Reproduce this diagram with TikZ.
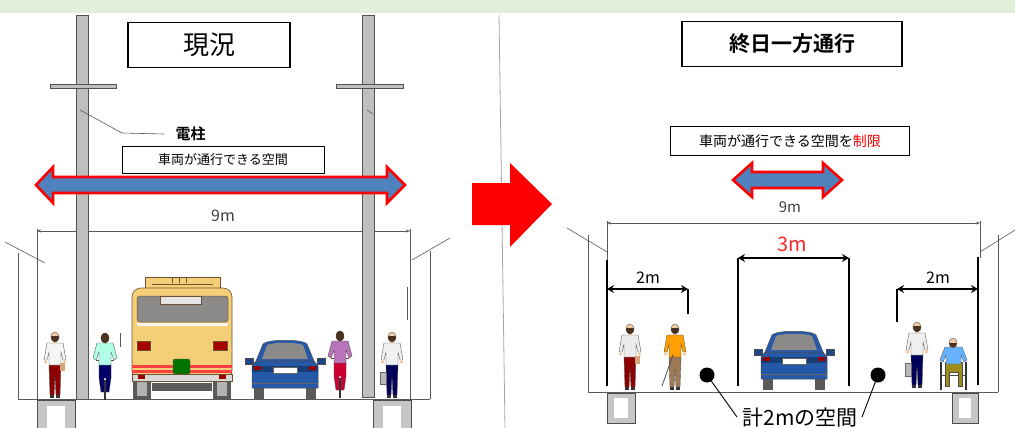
\documentclass[tikz,border=0pt]{standalone}
\usepackage{fontspec}
\setmainfont{Noto Sans CJK JP}[BoldFont={Noto Sans CJK JP Bold}]
\usetikzlibrary{arrows.meta}

\definecolor{band}{HTML}{E2EFDA}
\definecolor{arrowblue}{HTML}{4F81BD}
\definecolor{skin}{HTML}{F2C9A0}
\definecolor{hair}{HTML}{4A3220}
\definecolor{busbody}{HTML}{F4CF78}
\definecolor{busline}{HTML}{6A5530}
\definecolor{carblue}{HTML}{2458A8}
\definecolor{glass}{HTML}{8C8A88}
\definecolor{tyre}{HTML}{5A5A5A}

\tikzset{
  x=1pt, y=-1pt,
  thinline/.style={draw=gray!70!black, line width=0.6pt},
  pole/.style={fill=gray!50, draw=gray!65!black, line width=0.5pt},
  footing/.style={fill=gray!45, draw=gray!60!black, line width=0.5pt},
  titlebox/.style={draw=black, line width=1.2pt, fill=white, minimum width=#1, minimum height=45pt, inner sep=0pt},
  notebox/.style={draw=black, line width=0.9pt, fill=white, minimum width=#1, inner sep=0pt},
  bigarrow/.style={fill=arrowblue, draw=red, line width=2.6pt, line join=miter},
  dimline/.style={draw=black, line width=1.8pt},
  dimarrow/.style={draw=black, line width=1.8pt, {Stealth[length=7pt,width=8pt]}-{Stealth[length=7pt,width=8pt]}},
  outline/.style={draw=black!70, line width=0.35pt},
  % walking person seen from the front, feet at the origin
  pics/walker/.style 2 args={code={
    \fill[black!80] (-5,-3) rectangle (-1,0);
    \fill[black!80] (1,-3) rectangle (5,0);
    \filldraw[fill=#2, outline] (-6,-33) -- (6,-33) -- (5,-3) -- (1,-3) -- (0,-22) -- (-1,-3) -- (-5,-3) -- cycle;
    \filldraw[fill=#1, outline] (-8,-55) -- (-11,-38) -- (-8,-38) -- (-6,-46) -- (-6,-33) -- (6,-33) -- (6,-46) -- (8,-38) -- (11,-38) -- (8,-55) -- cycle;
    \fill[skin] (-9.5,-36) circle (1.8);
    \fill[skin] (9.5,-36) circle (1.8);
    \fill[skin] (-2,-58) rectangle (2,-55);
    \filldraw[fill=skin, outline] (0,-61) ellipse (4 and 5);
    \fill[hair] (-4.2,-61) arc (180:0:4.2 and 5) -- (3,-62) -- (-3,-62) -- cycle;
  }},
  % cyclist seen from behind, wheel at the origin
  pics/cyclist/.style 2 args={code={
    \draw[black!80, line width=2.4pt] (0,-20) -- (0,0);
    \draw[black!70, line width=1pt] (-9,-40) -- (9,-40);
    \filldraw[fill=#2, outline] (-6,-36) -- (6,-36) -- (6,-22) -- (4,-8) -- (1,-8) -- (1,-22) -- (-1,-22) -- (-1,-8) -- (-4,-8) -- (-6,-22) -- cycle;
    \filldraw[fill=#1, outline] (-8,-57) -- (-12,-42) -- (-9,-40) -- (-6,-48) -- (-6,-35) -- (6,-35) -- (6,-48) -- (9,-40) -- (12,-42) -- (8,-57) -- cycle;
    \fill[skin] (-2,-60) rectangle (2,-57);
    \filldraw[fill=skin, outline] (0,-62) ellipse (4 and 5);
    \fill[hair] (0,-62) ellipse (4.2 and 5.2);
  }},
  % rear view of a saloon car, bottom centre at the origin
  pics/sedan/.style={code={
    \fill[tyre] (-31,-12) rectangle (-21,0);
    \fill[tyre] (21,-12) rectangle (31,0);
    \filldraw[fill=carblue, draw=black!70, line width=0.5pt] (-33,-11) -- (-33,-33) -- (-29,-38) -- (29,-38) -- (33,-33) -- (33,-11) -- cycle;
    \filldraw[fill=carblue, draw=black!70, line width=0.5pt] (-29,-38) -- (-22,-55) .. controls (-18,-60) and (18,-60) .. (22,-55) -- (29,-38) -- cycle;
    \fill[glass] (-23,-40) -- (-18,-54) .. controls (-12,-57) and (12,-57) .. (18,-54) -- (23,-40) -- cycle;
    \filldraw[fill=carblue!80!black, draw=black!70, line width=0.4pt] (-40,-35) rectangle (-32,-41);
    \filldraw[fill=carblue!80!black, draw=black!70, line width=0.4pt] (32,-35) rectangle (40,-41);
    \fill[carblue!70!black] (-33,-33) rectangle (33,-27);
    \filldraw[fill=white, draw=black!60, line width=0.4pt] (-12,-32) rectangle (12,-26);
    \fill[red!60!black] (-31,-33) rectangle (-24,-29);
    \fill[red!60!black] (24,-33) rectangle (31,-29);
    \draw[black!60, line width=0.4pt] (-33,-16) -- (33,-16);
  }},
  % rear view of a bus, bottom centre at the origin
  pics/bus/.style={code={
    \fill[tyre] (-49,-20) rectangle (-31,0);
    \fill[tyre] (31,-20) rectangle (49,0);
    \fill[gray!60] (-45,-20) rectangle (-35,-3);
    \fill[gray!60] (35,-20) rectangle (45,-3);
    \fill[tyre] (-30,-16) rectangle (30,-8);
    \filldraw[fill=busbody, draw=busline, line width=0.5pt] (-37,-111) rectangle (38,-122);
    \draw[busline, line width=0.4pt] (-10,-122) -- (-10,-116) (-3,-122) -- (-3,-116) (4,-122) -- (4,-116) (-30,-115) -- (31,-115);
    \filldraw[fill=busbody, draw=busline, line width=0.6pt, rounded corners=9pt] (-50,-19) rectangle (50,-111);
    \filldraw[fill=glass, draw=busline, line width=0.5pt, rounded corners=3pt] (-45,-77) rectangle (46,-103);
    \filldraw[fill=gray!20, draw=busline, line width=0.5pt] (-22,-95) rectangle (19,-103);
    \fill[white!85!busbody] (-45,-73) rectangle (46,-76);
    \filldraw[fill=red!65!black, draw=busline, line width=0.4pt] (-45,-49) rectangle (-32,-58);
    \filldraw[fill=red!65!black, draw=busline, line width=0.4pt] (31,-49) rectangle (45,-58);
    \fill[red!75] (-50,-34) rectangle (50,-31);
    \fill[red!75] (-50,-29) rectangle (50,-26);
    \filldraw[fill=green!45!black, draw=busline, line width=0.4pt, rounded corners=2pt] (-9,-40) rectangle (8,-25);
    \filldraw[fill=gray!30, draw=busline, line width=0.5pt] (-50,-25) rectangle (50,-18);
    \fill[red!60!black] (-44,-24) rectangle (-37,-20);
    \fill[red!60!black] (37,-24) rectangle (44,-20);
  }},
}

\begin{document}
\begin{tikzpicture}
\useasboundingbox (0,0) rectangle (1015,428);
\fill[white] (0,0) rectangle (1015,428);
\fill[band] (0,0) rectangle (1015,13);

% divider between the two cross sections
\draw[gray!70, line width=0.8pt] (499,15) -- (505,428);

% ---------------- present situation ----------------
% buildings, ground and footings
\draw[thinline] (5,242) -- (45,263);
\draw[thinline] (18,253) -- (18,399);
\draw[thinline] (450,238) -- (412,260);
\draw[thinline] (430,251) -- (430,399);
\draw[thinline] (18,399) -- (430,399);
\draw[thinline] (37,229) -- (37,399);
\draw[thinline] (410,229) -- (410,399);
\draw[thinline] (407,287) -- (407,320);
\draw[thinline] (120,333) -- (120,347);
\draw[thinline, {Stealth[length=4pt,width=3pt]}-{Stealth[length=4pt,width=3pt]}] (37,231) -- (410,231);
\node[font=\fontsize{16}{16}\selectfont, text=black!75] (w9a) at (223,216) {9m};

\filldraw[footing] (37,400) rectangle (75,428);
\fill[white] (47,406) rectangle (65,428);
\filldraw[footing] (373,400) rectangle (411,428);
\fill[white] (383,406) rectangle (401,428);

% utility poles
\filldraw[pole] (76,15) rectangle (88,399);
\filldraw[pole] (50,84) rectangle (116,88);
\filldraw[pole] (362,15) rectangle (374,397);
\filldraw[pole] (336,84) rectangle (403,88);
\draw[thinline] (367,110) -- (373,114);

% vehicles and people
\pic at (182,399) {bus};
\pic at (285,399) {sedan};
\pic at (55,398) {walker={white!92!gray}{red!55!black}};
\fill[brown!70] (60,363) rectangle (65,371);
\pic at (105,400) {cyclist={green!30!cyan!30}{blue!40!black}};
\pic at (340,398) {cyclist={violet!55}{red!60!violet}};
\pic at (392,398) {walker={white!88!gray}{blue!35!black}};
\filldraw[fill=gray!55, draw=black!60, line width=0.3pt] (380,372) rectangle (386,384);

% labels
\node[titlebox=162pt, font=\fontsize{26}{26}\selectfont] (t1) at (209,45) {現況};
\coordinate (poleref) at (80,110);
\coordinate (polebend) at (122,133);
\node[font=\bfseries\fontsize{15}{15}\selectfont, anchor=west] (pl) at (172,134) {電柱};
\draw[thinline] (poleref) -- (polebend) -- ([xshift=-8pt]pl.west);
\node[notebox=202pt, minimum height=27pt, font=\fontsize{13}{13}\selectfont] (s1) at (223,160) {車両が通行できる空間};

% width available to vehicles
\filldraw[bigarrow] (36,185) -- (53,167) -- (53,177) -- (387,177) -- (387,167) -- (405,185) -- (387,203) -- (387,193) -- (53,193) -- (53,203) -- cycle;

% ---------------- change arrow ----------------
\fill[red] (472,183) -- (510,183) -- (510,163) -- (552,204) -- (510,247) -- (510,225) -- (472,225) -- cycle;

% ---------------- one-way all day ----------------
\draw[thinline] (567,228) -- (607,252);
\draw[thinline] (1015,230) -- (980,252);
\draw[thinline] (588,235) -- (588,392);
\draw[thinline] (998,235) -- (998,392);
\draw[thinline] (588,392) -- (998,392);
\draw[thinline] (607,221) -- (607,260);
\draw[thinline] (980,221) -- (980,258);
\draw[thinline, {Stealth[length=4pt,width=3pt]}-{Stealth[length=4pt,width=3pt]}] (607,223) -- (980,223);
\node[font=\fontsize{15}{15}\selectfont, text=black!75] (w9b) at (790,207) {9m};

\filldraw[footing] (607,393) rectangle (635,423);
\fill[white] (614,398) rectangle (628,418);
\filldraw[footing] (952,393) rectangle (978,423);
\fill[white] (959,398) rectangle (971,418);

\pic at (794,390) {sedan};
\pic at (630,390) {walker={white!85!gray}{red!55!black}};
\fill[brown!70] (635,356) rectangle (640,364);
\pic at (675,390) {walker={orange!75!yellow}{brown!70!black!80}};
\draw[black!70, line width=0.8pt] (673,355) -- (662,386);
\pic at (917,388) {walker={white!88!gray}{blue!35!black}};
\filldraw[fill=gray!55, draw=black!60, line width=0.3pt] (905,363) rectangle (911,376);
% wheelchair user
\draw[black!80, line width=1.4pt] (941,362) -- (941,390) (966,362) -- (966,390);
\draw[black!70, line width=0.8pt] (941,375) -- (966,375);
\filldraw[fill=olive!70!brown, outline] (945,362) -- (962,362) -- (962,386) -- (958,386) -- (958,372) -- (949,372) -- (949,386) -- (945,386) -- cycle;
\filldraw[fill=blue!50!cyan!60, outline] (945,347) -- (962,347) -- (967,360) -- (964,362) -- (961,355) -- (961,364) -- (946,364) -- (946,355) -- (943,362) -- (940,360) -- cycle;
\filldraw[fill=skin, outline] (953,343) ellipse (4 and 5);
\fill[hair] (949,343) arc (180:0:4 and 4.5) -- cycle;

% measured widths
\coordinate (la) at (607,260); \coordinate (lb) at (607,386);
\coordinate (lc) at (688,289); \coordinate (ld) at (688,314);
\draw[dimline] (la) -- (lb);
\draw[dimline] (lc) -- (ld);
\draw[dimarrow] (607,289) -- (lc);
\node[font=\fontsize{16}{16}\selectfont] (m2a) at (648,278) {2m};

\coordinate (ca) at (738,258); \coordinate (cb) at (849,258);
\draw[dimline] (ca) -- (738,386);
\draw[dimline] (cb) -- (849,386);
\draw[dimarrow] (ca) -- (cb);
\node[font=\fontsize{20}{20}\selectfont, text=red!85] (m3) at (792,244) {3m};

\coordinate (ra) at (897,289); \coordinate (rb) at (978,257);
\draw[dimline] (ra) -- (897,322);
\draw[dimline] (rb) -- (978,385);
\draw[dimarrow] (ra) -- (978,289);
\node[font=\fontsize{16}{16}\selectfont] (m2b) at (938,278) {2m};

% leftover space
\fill[black] (707,375) circle (7.5) coordinate (d1);
\fill[black] (878,375) circle (7.5) coordinate (d2);
\node[font=\fontsize{21}{21}\selectfont, anchor=base] (gap) at (800,425) {計2mの空間};
\draw[black, line width=0.9pt] (d1) -- (737,417);
\draw[black, line width=0.9pt] (d2) -- (862,417);

% labels
\node[titlebox=220pt, font=\bfseries\fontsize{21}{21}\selectfont] (t2) at (792,44) {終日一方通行};
\node[notebox=239pt, minimum height=29pt, font=\fontsize{14}{14}\selectfont] (s2) at (790,141) {車両が通行できる空間を\textcolor{red}{制限}};
\filldraw[bigarrow] (733,180) -- (752,163) -- (752,172) -- (823,172) -- (823,163) -- (842,180) -- (823,197) -- (823,188) -- (752,188) -- (752,197) -- cycle;
\end{tikzpicture}
\end{document}
